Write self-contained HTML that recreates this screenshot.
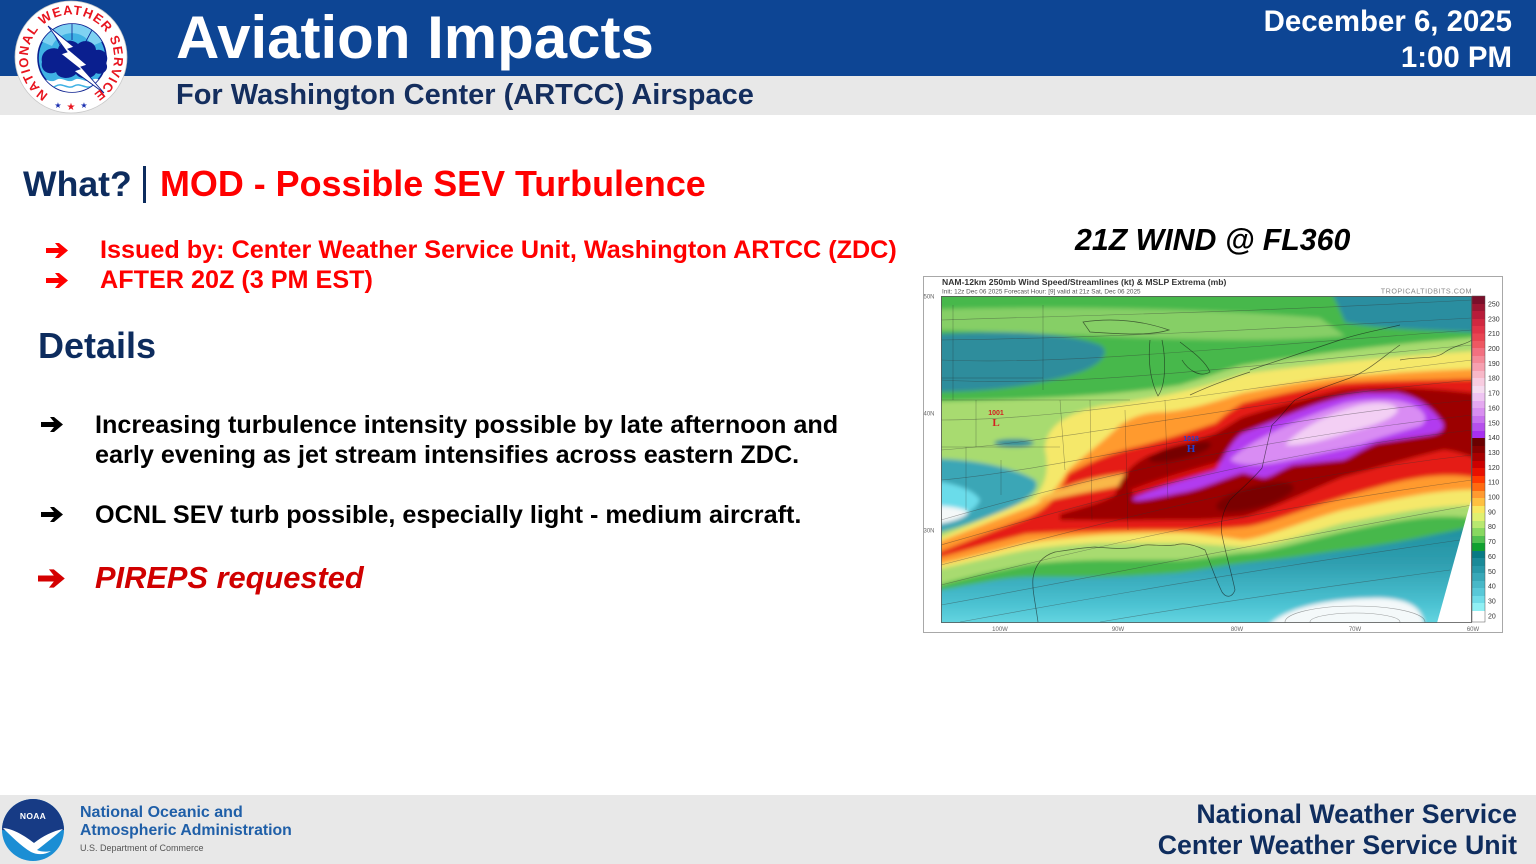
<!DOCTYPE html>
<html>
<head>
<meta charset="utf-8">
<style>
  html,body{margin:0;padding:0;}
  body{width:1536px;height:864px;position:relative;overflow:hidden;background:#fff;font-family:"Liberation Sans",Arial,sans-serif;}
  .abs{position:absolute;white-space:nowrap;line-height:1;}
  .b{font-weight:bold;}
</style>
</head>
<body>

<!-- Header -->
<div class="abs" style="left:0;top:0;width:1536px;height:76px;background:#0d4594;"></div>
<div class="abs" style="left:0;top:76px;width:1536px;height:39px;background:#e8e8e8;"></div>

<div class="abs b" style="left:176px;top:8px;font-size:60px;color:#fff;">Aviation Impacts</div>
<div class="abs b" style="left:176px;top:81px;font-size:29px;color:#142e5e;">For Washington Center (ARTCC) Airspace</div>
<div class="abs b" style="right:24px;top:7px;font-size:29.4px;color:#fff;text-align:right;">December 6, 2025</div>
<div class="abs b" style="right:24px;top:43px;font-size:29.4px;color:#fff;text-align:right;">1:00 PM</div>

<!-- NWS logo -->
<svg class="abs" style="left:12px;top:0;" width="122" height="116" viewBox="0 0 122 116">
  <defs>
    <path id="ring" d="M36.5,94.2 A43,43 0 1 1 81.5,94.2"/>
    <clipPath id="inner"><circle cx="60" cy="58" r="34"/></clipPath>
  </defs>
  <circle cx="59" cy="57" r="56" fill="#fff" stroke="#c8c8c8" stroke-width="0.8"/>
  <circle cx="60" cy="58" r="34" fill="#3fb2e4" stroke="#0a1f8f" stroke-width="1.6"/>
  <g clip-path="url(#inner)">
    <path d="M26,40 A36,36 0 0 1 94,40 L80,46 A22,22 0 0 0 40,46 Z" fill="#7fd2f2"/>
    <path d="M40,30 L48,45 M60,24 L60,40 M80,30 L72,45" stroke="#0a1f8f" stroke-width="0.8"/>
    <path d="M26,80 C32,76 38,84 44,80 C50,76 56,84 62,80 C68,76 74,84 80,80 C86,76 92,84 96,80 L96,96 L26,96 Z" fill="#fff"/>
    <path d="M26,86 C32,82 38,90 44,86 C50,82 56,90 62,86 C68,82 74,90 80,86 C86,82 92,90 96,86" fill="none" stroke="#3fb2e4" stroke-width="1.5"/>
  </g>
  <path d="M30,62 C28,52 38,46 46,49 C48,40 60,38 66,44 C72,38 84,42 84,50 C92,48 98,56 94,63 C98,70 90,76 84,73 C80,80 68,80 64,74 C58,80 46,79 44,72 C36,76 28,70 30,62 Z" fill="#0a1f8f"/>
  <polygon points="36,26 62,47 56,49 75,65 69,67 92,93 62,71 68,69 49,54 55,52" fill="#fff" stroke="#0a1f8f" stroke-width="0.9"/>
  <text font-family="Liberation Sans, Arial, sans-serif" font-weight="bold" font-size="13" fill="#e8141e">
    <textPath href="#ring" textLength="222" lengthAdjust="spacing">NATIONAL WEATHER SERVICE</textPath>
  </text>
  <text x="46" y="108" font-size="8" fill="#1a2fb0" text-anchor="middle">★</text>
  <text x="59" y="110" font-size="10" fill="#e8141e" text-anchor="middle">★</text>
  <text x="72" y="108" font-size="8" fill="#1a2fb0" text-anchor="middle">★</text>
</svg>

<!-- What line -->
<div class="abs b" style="left:23px;top:166.5px;font-size:35.6px;color:#0d2c5e;">What?</div>
<div class="abs" style="left:143px;top:166px;width:3px;height:37px;background:#0d2c5e;"></div>
<div class="abs b" style="left:160px;top:166.5px;font-size:35.9px;color:#ff0000;">MOD - Possible SEV Turbulence</div>

<!-- red bullets -->
<svg class="abs" style="left:46px;top:242px;" width="23" height="17" viewBox="0 0 23 17"><polygon points="0,6 13,6 9,1 13,1 22,8.5 13,16 9,16 13,11 0,11" fill="#ff0000"/></svg>
<svg class="abs" style="left:46px;top:272px;" width="23" height="17" viewBox="0 0 23 17"><polygon points="0,6 13,6 9,1 13,1 22,8.5 13,16 9,16 13,11 0,11" fill="#ff0000"/></svg>
<div class="abs b" style="left:100px;top:238px;font-size:25.2px;color:#ff0000;">Issued by: Center Weather Service Unit, Washington ARTCC (ZDC)</div>
<div class="abs b" style="left:100px;top:268px;font-size:25.2px;color:#ff0000;">AFTER 20Z (3 PM EST)</div>

<div class="abs b" style="left:38px;top:328px;font-size:36px;color:#0d2c5e;">Details</div>

<svg class="abs" style="left:41px;top:416px;" width="23" height="17" viewBox="0 0 23 17"><polygon points="0,6 13,6 9,1 13,1 22,8.5 13,16 9,16 13,11 0,11" fill="#000"/></svg>
<div class="abs b" style="left:95px;top:413px;font-size:25.2px;color:#000;">Increasing turbulence intensity possible by late afternoon and</div>
<div class="abs b" style="left:95px;top:443px;font-size:25.2px;color:#000;">early evening as jet stream intensifies across eastern ZDC.</div>

<svg class="abs" style="left:41px;top:506px;" width="23" height="17" viewBox="0 0 23 17"><polygon points="0,6 13,6 9,1 13,1 22,8.5 13,16 9,16 13,11 0,11" fill="#000"/></svg>
<div class="abs b" style="left:95px;top:503px;font-size:25.2px;color:#000;">OCNL SEV turb possible, especially light - medium aircraft.</div>

<svg class="abs" style="left:38px;top:568px;" width="28" height="21" viewBox="0 0 23 17"><polygon points="0,6 13,6 9,1 13,1 22,8.5 13,16 9,16 13,11 0,11" fill="#d40000"/></svg>
<div class="abs b" style="left:95px;top:562.5px;font-size:30.8px;color:#d00000;font-style:italic;">PIREPS requested</div>

<!-- Map title -->
<div class="abs b" style="left:1075px;top:226px;font-size:30.3px;color:#000;font-style:italic;">21Z WIND @ FL360</div>

<!-- Map -->
<div class="abs" style="left:923px;top:276px;width:578px;height:355px;border:1px solid #a8a8a8;background:#fff;"></div>
<svg class="abs" style="left:923px;top:276px;" width="581" height="358" viewBox="923 276 581 358">
  <defs>
    <clipPath id="plot"><rect x="941" y="296" width="531" height="327"/></clipPath>
    <filter id="blur" x="-5%" y="-5%" width="110%" height="110%"><feGaussianBlur stdDeviation="2.2"/></filter>
    <linearGradient id="ocean" x1="0" y1="0" x2="0" y2="1">
      <stop offset="0" stop-color="#1f8e9e"/>
      <stop offset="0.35" stop-color="#2f9fb0"/>
      <stop offset="0.7" stop-color="#4cc2d2"/>
      <stop offset="1" stop-color="#7ae6ee"/>
    </linearGradient>
    <linearGradient id="cbar" x1="0" y1="0" x2="0" y2="1">
      <stop offset="0" stop-color="#7a0f2a"/><stop offset="0.025" stop-color="#7a0f2a"/>
      <stop offset="0.025" stop-color="#9c1632"/><stop offset="0.046" stop-color="#9c1632"/>
      <stop offset="0.046" stop-color="#b81c3a"/><stop offset="0.07" stop-color="#b81c3a"/>
      <stop offset="0.07" stop-color="#d02840"/><stop offset="0.092" stop-color="#d02840"/>
      <stop offset="0.092" stop-color="#e03448"/><stop offset="0.115" stop-color="#e03448"/>
      <stop offset="0.115" stop-color="#e84552"/><stop offset="0.138" stop-color="#e84552"/>
      <stop offset="0.138" stop-color="#ee5862"/><stop offset="0.16" stop-color="#ee5862"/>
      <stop offset="0.16" stop-color="#f27080"/><stop offset="0.184" stop-color="#f27080"/>
      <stop offset="0.184" stop-color="#f48a98"/><stop offset="0.206" stop-color="#f48a98"/>
      <stop offset="0.206" stop-color="#f6a0b0"/><stop offset="0.23" stop-color="#f6a0b0"/>
      <stop offset="0.23" stop-color="#f8b8c8"/><stop offset="0.252" stop-color="#f8b8c8"/>
      <stop offset="0.252" stop-color="#f8cce0"/><stop offset="0.276" stop-color="#f8cce0"/>
      <stop offset="0.276" stop-color="#f6dcf0"/><stop offset="0.298" stop-color="#f6dcf0"/>
      <stop offset="0.298" stop-color="#eec4f2"/><stop offset="0.322" stop-color="#eec4f2"/>
      <stop offset="0.322" stop-color="#e4a8f0"/><stop offset="0.344" stop-color="#e4a8f0"/>
      <stop offset="0.344" stop-color="#d88ef0"/><stop offset="0.368" stop-color="#d88ef0"/>
      <stop offset="0.368" stop-color="#c870ee"/><stop offset="0.39" stop-color="#c870ee"/>
      <stop offset="0.39" stop-color="#b650ec"/><stop offset="0.414" stop-color="#b650ec"/>
      <stop offset="0.414" stop-color="#a82ff0"/><stop offset="0.436" stop-color="#a82ff0"/>
      <stop offset="0.436" stop-color="#6a0000"/><stop offset="0.46" stop-color="#6a0000"/>
      <stop offset="0.46" stop-color="#880000"/><stop offset="0.482" stop-color="#880000"/>
      <stop offset="0.482" stop-color="#a80000"/><stop offset="0.506" stop-color="#a80000"/>
      <stop offset="0.506" stop-color="#cc0000"/><stop offset="0.528" stop-color="#cc0000"/>
      <stop offset="0.528" stop-color="#e81000"/><stop offset="0.552" stop-color="#e81000"/>
      <stop offset="0.552" stop-color="#ff3a00"/><stop offset="0.574" stop-color="#ff3a00"/>
      <stop offset="0.574" stop-color="#ff6a10"/><stop offset="0.598" stop-color="#ff6a10"/>
      <stop offset="0.598" stop-color="#ff9a30"/><stop offset="0.62" stop-color="#ff9a30"/>
      <stop offset="0.62" stop-color="#ffc040"/><stop offset="0.644" stop-color="#ffc040"/>
      <stop offset="0.644" stop-color="#f8e860"/><stop offset="0.666" stop-color="#f8e860"/>
      <stop offset="0.666" stop-color="#e0f070"/><stop offset="0.69" stop-color="#e0f070"/>
      <stop offset="0.69" stop-color="#b8e870"/><stop offset="0.712" stop-color="#b8e870"/>
      <stop offset="0.712" stop-color="#88d860"/><stop offset="0.736" stop-color="#88d860"/>
      <stop offset="0.736" stop-color="#50c050"/><stop offset="0.758" stop-color="#50c050"/>
      <stop offset="0.758" stop-color="#10a030"/><stop offset="0.782" stop-color="#10a030"/>
      <stop offset="0.782" stop-color="#087a84"/><stop offset="0.804" stop-color="#087a84"/>
      <stop offset="0.804" stop-color="#1a8a98"/><stop offset="0.828" stop-color="#1a8a98"/>
      <stop offset="0.828" stop-color="#2898a8"/><stop offset="0.85" stop-color="#2898a8"/>
      <stop offset="0.85" stop-color="#38a8b8"/><stop offset="0.874" stop-color="#38a8b8"/>
      <stop offset="0.874" stop-color="#48b8c8"/><stop offset="0.896" stop-color="#48b8c8"/>
      <stop offset="0.896" stop-color="#58c8d8"/><stop offset="0.92" stop-color="#58c8d8"/>
      <stop offset="0.92" stop-color="#70dce8"/><stop offset="0.942" stop-color="#70dce8"/>
      <stop offset="0.942" stop-color="#90f0f4"/><stop offset="0.966" stop-color="#90f0f4"/>
      <stop offset="0.966" stop-color="#ffffff"/><stop offset="1" stop-color="#ffffff"/>
    </linearGradient>
  </defs>

  <!-- header text -->
  <text x="942" y="285" font-family="Liberation Sans, Arial, sans-serif" font-weight="bold" font-size="8.6" fill="#333">NAM-12km 250mb Wind Speed/Streamlines (kt) &amp; MSLP Extrema (mb)</text>
  <text x="942" y="293.5" font-family="Liberation Sans, Arial, sans-serif" font-size="6.4" fill="#555">Init: 12z Dec 06 2025    Forecast Hour: [9]    valid at 21z Sat, Dec 06 2025</text>
  <text x="1472" y="293.5" text-anchor="end" font-family="Liberation Sans, Arial, sans-serif" font-size="7.2" fill="#8a8a8a" letter-spacing="0.5">TROPICALTIDBITS.COM</text>

  <g clip-path="url(#plot)">
    <g filter="url(#blur)">
      <rect x="915" y="280" width="580" height="360" fill="#46b84c"/>
      <path d="M915,310 C1050,305 1200,308 1320,318 L1345,336 C1250,344 1150,338 1050,334 C1000,332 960,330 915,330 Z" fill="#86cf66"/>
      <path d="M1325,280 L1495,280 L1495,333 C1420,330 1370,328 1345,322 C1338,305 1332,292 1325,280 Z" fill="#2a8ea0"/>
      <path d="M915,336 C980,330 1060,330 1100,345 C1112,352 1100,365 1080,372 C1040,385 990,393 915,392 Z" fill="#2d8d9c"/>
      <path d="M915,402 C1000,400 1100,398 1180,385 C1210,376 1230,368 1243,365 C1300,356 1400,342 1495,336 L1495,522 C1443,510 1400,520 1343,532 C1300,542 1270,552 1243,553 C1210,557 1190,560 1176,560 C1140,560 1120,560 1100,560 C1060,561 1040,563 1026,565 C990,572 960,578 915,592 Z" fill="#a8db70"/>
      <ellipse cx="1014" cy="443" rx="20" ry="4" fill="#2d8d9c"/>
      <path d="M915,458 C970,458 1010,466 1035,480 C1042,490 1025,503 995,514 C970,524 945,532 915,538 Z" fill="#3aa6b6"/>
      <path d="M915,480 C950,480 975,490 980,500 C975,512 955,522 915,530 Z" fill="#6adcea"/>
      <path d="M915,505 C945,505 968,508 968,513 C962,520 945,524 915,527 Z" fill="#f4f8f8"/>
      <path d="M915,595 L941,590 C980,583 1000,578 1026,577 C1060,577 1080,577 1100,577 C1140,576 1160,574 1176,573 C1200,570 1220,566 1243,563 C1300,557 1320,553 1343,550 C1400,543 1420,537 1443,533 L1495,522 L1495,640 L915,640 Z" fill="url(#ocean)"/>
      <path d="M1268,626 C1285,607 1330,598 1380,598 C1405,599 1423,605 1424,626 Z" fill="#f4f9fa"/>
      <path d="M915,548 L941,537 C970,525 1000,512 1030,500 C1045,490 1050,470 1045,450 C1045,430 1060,415 1100,406 C1140,400 1180,395 1243,374 C1300,366 1400,355 1495,350 L1495,506 C1443,503 1400,512 1343,523 C1300,535 1270,547 1243,547 C1210,545 1190,543 1176,543 C1140,543 1120,543 1100,543 C1060,545 1040,548 1026,550 C990,557 960,565 915,574 Z" fill="#f5e86a"/>
      <path d="M915,552 L941,541 C980,526 1010,514 1030,507 C1050,500 1058,485 1068,470 C1085,455 1105,440 1120,425 C1135,415 1150,412 1165,412 C1190,410 1220,400 1243,393 C1290,384 1320,379 1343,377 C1400,372 1443,370 1495,368 L1495,490 C1443,487 1400,498 1343,510 C1300,522 1265,538 1243,540 C1210,535 1190,533 1176,533 C1140,533 1120,534 1100,535 C1060,538 1040,541 1026,543 C990,552 960,560 915,570 Z" fill="#ff9a2e"/>
      <path d="M930,556 C970,540 1000,528 1026,518 C1045,510 1058,498 1068,474 C1090,462 1110,453 1136,447 C1165,440 1195,430 1216,423 C1230,410 1240,405 1243,403 C1290,392 1320,386 1343,383 C1400,380 1443,380 1495,378 L1495,482 C1443,467 1400,480 1343,497 C1300,510 1265,525 1243,527 C1210,530 1190,530 1176,530 C1140,530 1120,530 1100,531 C1060,532 1040,533 1026,534 C990,543 960,552 930,560 Z" fill="#e51b12"/>
      <path d="M1035,500 C1060,488 1085,478 1120,474 C1145,471 1170,470 1190,471 C1170,476 1150,480 1130,484 C1100,490 1075,494 1050,500 Z" fill="#f9b848"/>
      <path d="M1060,514 C1080,508 1100,503 1115,495 C1120,480 1128,465 1150,455 C1175,447 1200,440 1216,433 C1230,425 1240,418 1243,417 C1280,405 1320,395 1343,390 C1380,386 1420,388 1443,390 L1495,395 L1495,465 C1460,452 1450,450 1443,450 C1420,455 1380,467 1343,477 C1310,490 1270,510 1243,517 C1210,520 1190,520 1176,520 C1140,520 1110,521 1060,520 Z" fill="#9c0000"/>
      <ellipse cx="1180" cy="452" rx="32" ry="7" transform="rotate(-14 1180 452)" fill="#760000"/>
      <ellipse cx="1255" cy="497" rx="40" ry="11" transform="rotate(-15 1255 497)" fill="#7a0000"/>
      <path d="M1130,490 C1160,478 1190,470 1225,460 L1228,466 C1195,476 1165,484 1135,495 Z" fill="#d81010"/>
      <path d="M1133,498 C1150,490 1190,478 1216,470 C1225,455 1232,440 1243,433 L1293,413 C1320,402 1345,395 1365,393 L1397,393 C1415,396 1430,405 1443,423 C1445,430 1440,433 1430,435 L1377,443 C1360,450 1350,458 1343,460 L1293,465 C1280,470 1270,478 1263,478 L1243,473 C1220,480 1200,490 1180,493 C1160,497 1140,502 1133,500 Z" fill="#b23bf0"/>
      <path d="M1230,460 C1250,440 1300,418 1345,403 C1370,398 1395,398 1410,404 C1425,410 1430,420 1420,426 C1400,432 1380,437 1360,445 C1330,452 1300,458 1280,462 C1260,466 1240,466 1230,460 Z" fill="#d98cf3"/>
      <path d="M1285,445 C1300,428 1330,413 1360,405 C1380,401 1395,403 1398,410 C1395,418 1375,425 1350,432 C1325,440 1300,447 1285,445 Z" fill="#f3cff4"/>
    </g>

    <!-- streamlines -->
    <g fill="none" stroke="#333" stroke-width="0.6" opacity="0.45">
      <path d="M941,320 C1100,315 1250,312 1472,300"/>
      <path d="M941,340 C1100,338 1250,330 1472,318"/>
      <path d="M941,360 C1060,365 1200,350 1472,330"/>
      <path d="M941,380 C1080,388 1250,365 1472,345"/>
      <path d="M941,420 C1080,420 1250,385 1472,360"/>
      <path d="M941,450 C1080,440 1250,400 1472,380"/>
      <path d="M941,480 C1060,470 1250,420 1472,400"/>
      <path d="M941,520 C1080,480 1250,440 1472,415"/>
      <path d="M941,545 C1080,505 1250,455 1472,430"/>
      <path d="M941,565 C1080,530 1250,480 1472,455"/>
      <path d="M941,585 C1080,550 1250,510 1472,480"/>
      <path d="M941,605 C1080,580 1250,545 1472,505"/>
      <path d="M960,622 C1080,600 1250,570 1460,540"/>
      <path d="M1100,622 C1200,605 1300,590 1450,570"/>
      <ellipse cx="1355" cy="622" rx="70" ry="16"/>
      <ellipse cx="1355" cy="622" rx="45" ry="9"/>
    </g>

    <!-- geography -->
    <g fill="none" stroke="#111" stroke-width="0.7" opacity="0.6">
      <path d="M1400,345 C1385,355 1370,370 1350,378 C1330,385 1310,392 1295,400 C1285,410 1280,418 1272,425 C1268,440 1265,455 1262,468 C1252,480 1240,490 1230,500 C1222,512 1220,525 1222,535 C1226,555 1232,575 1235,590 C1232,598 1226,598 1222,592 C1215,578 1210,562 1205,550 C1195,545 1185,542 1175,545 C1160,547 1150,543 1140,546 C1125,550 1110,548 1095,547 C1080,548 1068,550 1055,552 C1042,556 1035,565 1033,578 C1032,590 1035,600 1038,622"/>
      <path d="M1400,360 C1420,356 1435,360 1445,352 C1455,345 1465,345 1472,340"/>
      <path d="M1083,322 C1110,318 1140,320 1169,330 C1150,336 1120,334 1090,332 Z"/>
      <path d="M1150,340 C1148,360 1150,380 1158,396 C1166,385 1166,360 1162,340"/>
      <path d="M1180,342 C1190,350 1205,360 1210,372 C1200,378 1188,370 1182,360"/>
      <path d="M1190,395 C1205,388 1225,380 1250,372"/>
      <path d="M1250,370 C1280,360 1310,350 1340,340 C1360,333 1380,330 1400,325"/>
    </g>
    <g fill="none" stroke="#222" stroke-width="0.5" opacity="0.45">
      <path d="M953,305 L953,400 M1043,305 L1043,390 M941,378 L1043,378 M941,400 L1130,400 M976,400 L976,447 M941,447 L1060,447 M966,447 L966,510 M1001,460 L1001,495 M1060,400 L1065,470 M1090,400 L1092,520 M1125,410 L1128,530 M1165,400 L1168,500"/>
    </g>

    <text x="996" y="415" text-anchor="middle" font-family="Liberation Sans, Arial, sans-serif" font-weight="bold" font-size="7" fill="#d42020">1001</text>
    <text x="996" y="426" text-anchor="middle" font-family="Liberation Serif, serif" font-weight="bold" font-size="11" fill="#d42020">L</text>
    <text x="1191" y="441" text-anchor="middle" font-family="Liberation Sans, Arial, sans-serif" font-weight="bold" font-size="7" fill="#2040d0">1018</text>
    <text x="1191" y="452" text-anchor="middle" font-family="Liberation Serif, serif" font-weight="bold" font-size="11" fill="#2040d0">H</text>

    <polygon points="1473,493 1437,623 1473,623" fill="#fff"/>
  </g>
  <rect x="941.5" y="296.5" width="530" height="326" fill="none" stroke="#555" stroke-width="0.8"/>

  <!-- colorbar -->
  <rect x="1472" y="296" width="13" height="326" fill="url(#cbar)" stroke="#555" stroke-width="0.5"/>
  <g font-family="Liberation Sans, Arial, sans-serif" font-size="7" fill="#333">
    <text x="1488" y="306.5">250</text>
    <text x="1488" y="321.3">230</text>
    <text x="1488" y="336.2">210</text>
    <text x="1488" y="351">200</text>
    <text x="1488" y="365.9">190</text>
    <text x="1488" y="380.7">180</text>
    <text x="1488" y="395.6">170</text>
    <text x="1488" y="410.4">160</text>
    <text x="1488" y="425.3">150</text>
    <text x="1488" y="440.1">140</text>
    <text x="1488" y="455">130</text>
    <text x="1488" y="469.8">120</text>
    <text x="1488" y="484.7">110</text>
    <text x="1488" y="499.5">100</text>
    <text x="1488" y="514.4">90</text>
    <text x="1488" y="529.2">80</text>
    <text x="1488" y="544.1">70</text>
    <text x="1488" y="558.9">60</text>
    <text x="1488" y="573.8">50</text>
    <text x="1488" y="588.6">40</text>
    <text x="1488" y="603.5">30</text>
    <text x="1488" y="618.3">20</text>
  </g>
  <g font-family="Liberation Sans, Arial, sans-serif" font-size="6" fill="#666">
    <text x="923.5" y="298.5">50N</text>
    <text x="923.5" y="415.5">40N</text>
    <text x="923.5" y="532.5">30N</text>
    <text x="1000" y="631" text-anchor="middle">100W</text>
    <text x="1118" y="631" text-anchor="middle">90W</text>
    <text x="1237" y="631" text-anchor="middle">80W</text>
    <text x="1355" y="631" text-anchor="middle">70W</text>
    <text x="1473" y="631" text-anchor="middle">60W</text>
  </g>
</svg>

<!-- Footer -->
<div class="abs" style="left:0;top:795px;width:1536px;height:69px;background:#e8e8e8;"></div>
<svg class="abs" style="left:1px;top:798px;" width="64" height="64" viewBox="0 0 64 64">
  <circle cx="32" cy="32" r="31" fill="#1b8ed4"/>
  <path d="M1,32 A31,31 0 0 1 63,32 C52,33 42,38 33,45 C24,38 12,33 1,32 Z" fill="#173b85"/>
  <path d="M2,30 C13,31 24,38 33,45 C42,38 52,33 62,31 C55,37 44,46 36,52 C40,54 46,54 50,53 C44,57 36,57 30,54 C20,48 10,38 2,30 Z" fill="#fff"/>
  <text x="32" y="21" text-anchor="middle" font-family="Liberation Sans, Arial, sans-serif" font-weight="bold" font-size="8.5" fill="#fff" letter-spacing="0.3">NOAA</text>
</svg>
<div class="abs b" style="left:80px;top:805px;font-size:16px;color:#1f5fa8;">National Oceanic and</div>
<div class="abs b" style="left:80px;top:823px;font-size:15.8px;color:#1f5fa8;">Atmospheric Administration</div>
<div class="abs" style="left:80px;top:844px;font-size:9px;color:#555;">U.S. Department of Commerce</div>

<div class="abs b" style="right:19px;top:800.5px;font-size:26.75px;color:#0f2d5e;text-align:right;">National Weather Service</div>
<div class="abs b" style="right:19px;top:831.5px;font-size:26.75px;color:#0f2d5e;text-align:right;">Center Weather Service Unit</div>

</body>
</html>
